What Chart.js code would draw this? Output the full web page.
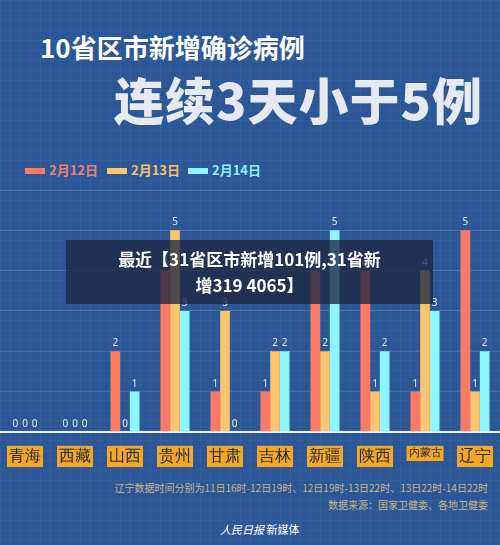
<!DOCTYPE html>
<html><head><meta charset="utf-8">
<script src="https://cdn.jsdelivr.net/npm/chart.js@4"></script>
<style>
body{margin:0;width:500px;height:545px;overflow:hidden;background:#2b5797;font-family:"Noto Sans CJK SC","Noto Sans",sans-serif;position:relative;
background-image:linear-gradient(rgba(255,255,255,0.04) 1px,transparent 1px),linear-gradient(90deg,rgba(255,255,255,0.04) 1px,transparent 1px);background-size:10px 10px;}
.t1{position:absolute;left:40px;top:28px;color:#fff;font-weight:bold;font-size:26px}
.t2{position:absolute;left:114px;top:62px;color:#e6eaf0;font-weight:900;font-size:50px;letter-spacing:1px}
.lg{position:absolute;top:160px;font-size:13px;font-weight:bold}
.lg i{display:inline-block;width:20px;height:6px;margin-right:4px;vertical-align:middle}
#wrap{position:absolute;left:0;top:190px;width:500px;height:283px}
.ov{position:absolute;left:66px;top:240px;width:367px;height:64px;background:rgba(30,40,65,0.78);color:#fff;font-weight:bold;font-size:17px;text-align:center;line-height:26px;padding-top:6px;box-sizing:border-box}
.n1{position:absolute;right:12px;top:480px;color:#c9b48a;font-size:10px}
.n2{position:absolute;right:12px;top:497px;color:#c9b48a;font-size:10px}
.n3{position:absolute;left:220px;top:521px;color:#fff;font-size:11px}
</style></head><body>
<div class="t1">10省区市新增确诊病例</div>
<div class="t2">连续3天小于5例</div>
<div class="lg" style="left:25px;color:#f08070"><i style="background:#fa7a66"></i>2月12日</div>
<div class="lg" style="left:107px;color:#f6c06a"><i style="background:#fcc46c"></i>2月13日</div>
<div class="lg" style="left:188px;color:#8ef0f8"><i style="background:#8ef6ff"></i>2月14日</div>
<div id="wrap"><canvas id="c"></canvas></div>
<div class="ov">最近【31省区市新增101例,31省新<br>增319 4065】</div>
<div class="n1">辽宁数据时间分别为11日16时-12日19时、12日19时-13日22时、13日22时-14日22时</div>
<div class="n2">数据来源：国家卫健委、各地卫健委</div>
<div class="n3"><i>人民日报</i> 新媒体</div>
<script>
const categories=["青海","西藏","山西","贵州","甘肃","吉林","新疆","陕西","内蒙古","辽宁"];
const feb12=[0,0,2,4,1,1,4,4,1,5];
const feb13=[0,0,0,5,3,2,2,1,4,1];
const feb14=[0,0,1,3,0,2,5,2,3,2];
const labelsPlugin={id:'vl',afterDatasetsDraw(ch){const c=ch.ctx;c.save();c.fillStyle='#e8e8e8';c.font='10px "Noto Sans"';c.textAlign='center';
ch.data.datasets.forEach((d,i)=>{ch.getDatasetMeta(i).data.forEach((b,j)=>{c.fillText(d.data[j],b.x,b.y-5);});});c.restore();}};
new Chart(document.getElementById('c'),{type:'bar',
data:{labels:categories,datasets:[
{label:'2月12日',data:feb12,backgroundColor:'#fa7a66'},
{label:'2月13日',data:feb13,backgroundColor:'#fcc46c'},
{label:'2月14日',data:feb14,backgroundColor:'#8ef6ff'}]},
options:{responsive:true,maintainAspectRatio:false,animation:false,
layout:{padding:0},
categoryPercentage:0.58,barPercentage:1,
plugins:{legend:{display:false},tooltip:{enabled:false}},
scales:{y:{min:0,max:6,ticks:{display:false,stepSize:1},grid:{color:'rgba(255,255,255,0.12)',drawTicks:false},border:{display:false}},
x:{grid:{display:false},border:{color:'#e8eef8',width:2},
ticks:{color:'#1e2a44',font:(ctx)=>({size:ctx.tick&&ctx.tick.label==='内蒙古'?11:16}),padding:7,maxRotation:0,minRotation:0,autoSkip:false,showLabelBackdrop:true,backdropColor:'#f5a623',backdropPadding:{top:1,bottom:1,left:2,right:2}}}}},
plugins:[labelsPlugin]});
</script></body></html>
